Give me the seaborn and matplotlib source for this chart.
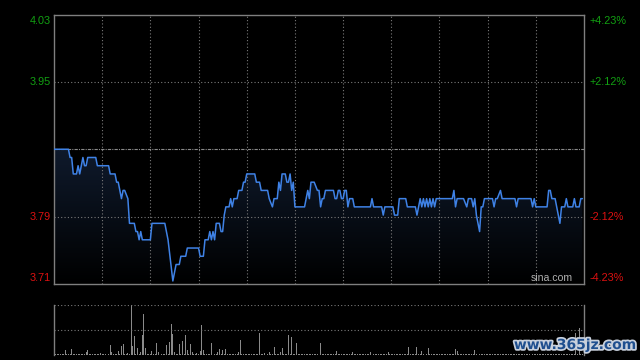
import numpy as np
import pandas as pd
import matplotlib
matplotlib.use("Agg")
import matplotlib.pyplot as plt
import matplotlib.patheffects as pe
from matplotlib.colors import LinearSegmentedColormap
import seaborn as sns

# ── Data ───────────────────────────────────────────────────────────────────────

prev_close = 3.87
pct_levels = [4.23, 2.12, -2.12, -4.23]
left_labels = ["4.03", "3.95", "3.79", "3.71"]
right_labels = ["+4.23%", "+2.12%", "-2.12%", "-4.23%"]
label_colors = ["#12a012", "#12a012", "#dd1111", "#dd1111"]

# trading minute (0..330) -> price at that vertex of the line
minutes = [
    0, 9, 10, 11, 12, 14, 15, 16, 18, 19,
    20, 21, 26, 27, 34, 35, 38, 39, 40, 41,
    42, 43, 44, 46, 47, 50, 51, 52, 53, 54,
    55, 60, 61, 69, 70, 71, 74, 76, 78, 79,
    82, 83, 90, 91, 93, 94, 96, 97, 98, 99,
    100, 101, 103, 104, 105, 106, 107, 109, 110, 111,
    112, 114, 115, 117, 118, 119, 120, 125, 126, 128,
    129, 133, 134, 136, 137, 139, 140, 141, 142, 144,
    145, 146, 147, 148, 149, 150, 156, 158, 159, 160,
    162, 164, 165, 166, 167, 168, 169, 174, 175, 176,
    177, 178, 179, 180, 181, 182, 183, 184, 186, 187,
    197, 198, 199, 204, 205, 206, 211, 212, 214, 215,
    219, 220, 225, 226, 227, 228, 229, 230, 231, 232,
    233, 234, 235, 236, 237, 238, 248, 249, 250, 251,
    255, 257, 258, 260, 261, 262, 263, 265, 266, 267,
    268, 273, 274, 275, 276, 278, 279, 287, 288, 289,
    297, 298, 299, 300, 307, 308, 309, 310, 312, 313,
    314, 315, 316, 318, 319, 320, 323, 324, 325, 327,
    328, 329,
]
prices = [
    3.87, 3.87, 3.86, 3.86, 3.84, 3.84, 3.85, 3.84, 3.86, 3.85,
    3.85, 3.86, 3.86, 3.85, 3.85, 3.84, 3.84, 3.83, 3.83, 3.82,
    3.81, 3.82, 3.82, 3.81, 3.78, 3.78, 3.77, 3.77, 3.76, 3.77,
    3.76, 3.76, 3.78, 3.78, 3.77, 3.76, 3.71, 3.73, 3.73, 3.74,
    3.74, 3.75, 3.75, 3.74, 3.74, 3.76, 3.76, 3.77, 3.76, 3.77,
    3.76, 3.78, 3.78, 3.77, 3.77, 3.79, 3.80, 3.80, 3.81, 3.80,
    3.81, 3.81, 3.82, 3.82, 3.83, 3.83, 3.84, 3.84, 3.83, 3.83,
    3.82, 3.82, 3.81, 3.80, 3.81, 3.81, 3.83, 3.82, 3.84, 3.84,
    3.83, 3.83, 3.84, 3.82, 3.83, 3.80, 3.80, 3.82, 3.81, 3.83,
    3.83, 3.82, 3.82, 3.80, 3.81, 3.81, 3.82, 3.82, 3.81, 3.81,
    3.82, 3.82, 3.81, 3.81, 3.82, 3.82, 3.80, 3.81, 3.81, 3.80,
    3.80, 3.81, 3.80, 3.80, 3.79, 3.80, 3.80, 3.79, 3.79, 3.81,
    3.81, 3.80, 3.80, 3.79, 3.80, 3.81, 3.80, 3.81, 3.80, 3.81,
    3.80, 3.81, 3.80, 3.81, 3.80, 3.81, 3.81, 3.82, 3.80, 3.81,
    3.81, 3.80, 3.81, 3.81, 3.80, 3.81, 3.79, 3.77, 3.80, 3.80,
    3.81, 3.81, 3.80, 3.81, 3.81, 3.82, 3.81, 3.81, 3.80, 3.81,
    3.81, 3.80, 3.81, 3.80, 3.80, 3.82, 3.82, 3.81, 3.81, 3.80,
    3.79, 3.78, 3.80, 3.80, 3.81, 3.80, 3.80, 3.81, 3.80, 3.80,
    3.81, 3.81,
]

# volume per minute (relative units, peak = 100), one row per half hour
volume = [
    8, 2, 2, 3, 2, 2, 3, 10, 2, 3, 2, 12, 2, 3, 2, 2, 3, 2, 3, 3, 7, 10, 2, 3, 2, 2, 3, 2, 2, 5,
    2, 3, 2, 2, 3, 20, 7, 2, 3, 2, 8, 3, 19, 23, 2, 3, 5, 2, 100, 19, 39, 3, 14, 2, 7, 41, 82, 14, 3, 2,
    3, 8, 2, 3, 25, 7, 3, 2, 3, 2, 20, 3, 26, 62, 42, 7, 3, 2, 22, 3, 29, 2, 41, 10, 3, 22, 7, 3, 2, 5,
    3, 8, 60, 10, 2, 3, 2, 3, 25, 18, 3, 2, 7, 12, 3, 10, 2, 12, 3, 2, 3, 2, 3, 2, 3, 7, 30, 3, 2, 3,
    2, 3, 2, 3, 2, 3, 2, 3, 45, 2, 3, 5, 2, 3, 7, 2, 3, 16, 2, 3, 2, 7, 14, 3, 2, 3, 41, 2, 37, 3,
    2, 25, 3, 2, 3, 2, 3, 2, 3, 2, 3, 2, 3, 2, 3, 2, 25, 3, 2, 3, 2, 3, 2, 3, 2, 3, 8, 2, 3, 2,
    3, 2, 3, 2, 3, 2, 7, 2, 3, 2, 3, 2, 3, 2, 3, 2, 3, 7, 2, 3, 2, 3, 2, 3, 2, 3, 2, 3, 7, 2,
    3, 2, 3, 2, 3, 2, 3, 2, 3, 2, 3, 16, 2, 3, 2, 3, 16, 2, 3, 9, 2, 3, 2, 14, 3, 2, 3, 2, 3, 2,
    3, 2, 3, 2, 3, 2, 3, 2, 3, 2, 12, 8, 3, 2, 3, 2, 3, 2, 3, 2, 3, 2, 11, 3, 73, 3, 2, 3, 2, 3,
    2, 3, 2, 3, 2, 3, 2, 3, 2, 3, 2, 3, 2, 3, 2, 3, 2, 3, 2, 3, 2, 3, 2, 3, 2, 3, 2, 3, 2, 3,
    2, 3, 2, 3, 2, 3, 2, 3, 2, 3, 2, 3, 2, 3, 2, 3, 2, 3, 2, 3, 2, 3, 2, 3, 2, 44, 2, 55, 3, 2,
]

# ── Setup ──────────────────────────────────────────────────────────────────────

sns.set_style("dark")
plt.rcParams["font.family"] = ["Liberation Sans", "DejaVu Sans"]

n_minutes = 330
hi = prev_close * (1 + pct_levels[0] / 100)
lo = prev_close * (1 + pct_levels[-1] / 100)
levels = [prev_close * (1 + p / 100) for p in pct_levels]

price_df = pd.DataFrame({"minute": minutes, "price": prices})
vol_df = pd.DataFrame({"minute": np.arange(len(volume)), "volume": volume})

grid_c = "#7a7a7a"
spine_c = "#7f7f7f"

fig = plt.figure(figsize=(6.4, 3.6), dpi=100, facecolor="black")
ax = fig.add_axes([54 / 640, 76 / 360, 530 / 640, 269.5 / 360])
axv = fig.add_axes([54 / 640, 5 / 360, 530 / 640, 50 / 360])

# ── Price panel ────────────────────────────────────────────────────────────────

ax.set_facecolor("black")

# gradient fill under the line, clipped to the area polygon
area = ax.fill_between(price_df["minute"], price_df["price"], lo, color="none", lw=0)
cmap = LinearSegmentedColormap.from_list("fade", ["#000000", "#0f1a2c"])
grad = np.linspace(1, 0, 256).reshape(-1, 1)
img = ax.imshow(grad, extent=[0, n_minutes, lo, max(prices)], aspect="auto",
                cmap=cmap, origin="upper", zorder=1)
img.set_clip_path(area.get_paths()[0], transform=ax.transData)

for m in range(30, n_minutes, 30):
    ax.axvline(m, color=grid_c, lw=0.8, ls=(0, (1, 2)), zorder=2)
for lv in levels[1:3]:
    ax.axhline(lv, color=grid_c, lw=0.8, ls=(0, (1, 2)), zorder=2)
ax.axhline(prev_close, color="#8a8a8a", lw=0.8, ls=(0, (3, 1, 1, 1)), zorder=2)

sns.lineplot(data=price_df, x="minute", y="price", ax=ax, color="#3f82e6",
             lw=1.1, estimator=None, sort=False, zorder=3)

ax.set_xlim(0, n_minutes)
ax.set_ylim(lo, hi)
ax.set_xticks([])
ax.set_yticks([])
ax.set_xlabel("")
ax.set_ylabel("")
for s in ax.spines.values():
    s.set_visible(True)
    s.set_color(spine_c)
    s.set_linewidth(1.0)

# axis labels: shift the outer ones inside the plot frame
offsets = [-0.0075, 0, 0, 0.0077]
trans_l = ax.get_yaxis_transform()
for lv, off, lt, rt, c in zip(levels, offsets, left_labels, right_labels, label_colors):
    ax.text(-0.006, lv + off, lt, transform=trans_l, ha="right", va="center",
            color=c, fontsize=7.8)
    ax.text(1.011, lv + off, rt, transform=trans_l, ha="left", va="center",
            color=c, fontsize=7.8)

ax.text(0.979, lo + 0.0077, "sina.com", transform=trans_l, ha="right", va="center",
        color="#b0b0b0", fontsize=7.6, zorder=4)

# ── Volume panel ───────────────────────────────────────────────────────────────

axv.set_facecolor("black")
sns.barplot(data=vol_df, x="minute", y="volume", ax=axv, native_scale=True,
            color="#8a8a8a", saturation=1, width=0.6, linewidth=0, errorbar=None)
axv.axhline(100, color=grid_c, lw=0.8, ls=(0, (1, 2)))
axv.axhline(50, color=grid_c, lw=0.8, ls=(0, (1, 2)))
axv.set_xlim(0, n_minutes)
axv.set_ylim(0, 100)
axv.set_xticks([])
axv.set_yticks([])
axv.set_xlabel("")
axv.set_ylabel("")
for side, s in axv.spines.items():
    s.set_color(spine_c)
    s.set_linewidth(1.0)
    s.set_visible(side in ("left", "right"))

# site watermark in the lower right corner
fig.text(575 / 640, 15 / 360, "www.365jz.com", ha="center", va="center",
         color="#1f4f8f", fontsize=10, fontweight="bold",
         family=["DejaVu Sans"],
         path_effects=[pe.withStroke(linewidth=2.5, foreground="#c8d0dc")])

fig.savefig("out.png", dpi=100, facecolor="black")
